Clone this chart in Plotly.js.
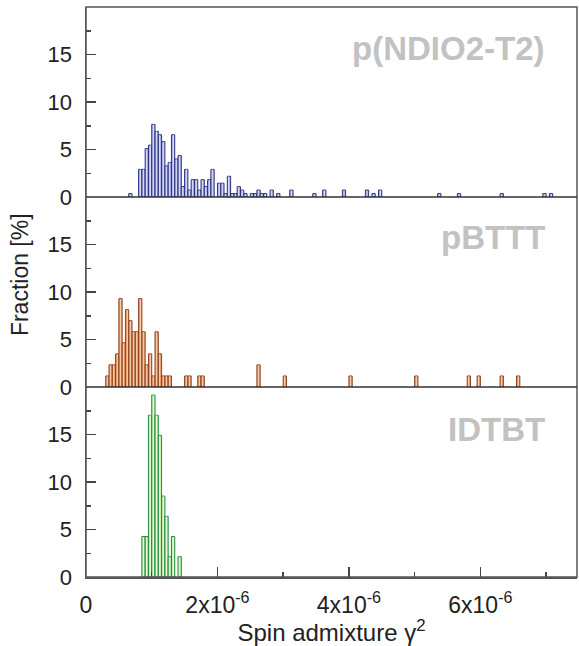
<!DOCTYPE html>
<html>
<head>
<meta charset="utf-8">
<script src="https://cdn.plot.ly/plotly-3.0.1.min.js"></script>
<style>html,body{margin:0;padding:0;background:#fff;}#chart{width:579px;height:646px;}</style>
</head>
<body>
<div id="chart"></div>
<script>
// Bin centres (units of 1e-6) and fractions (%)
const ndioX = [0.675,0.825,0.875,0.925,0.975,1.025,1.075,1.125,1.175,1.225,1.275,1.325,1.375,1.425,1.475,1.525,1.575,1.625,1.675,1.725,1.775,1.825,1.875,1.925,2.025,2.075,2.125,2.175,2.225,2.275,2.325,2.375,2.425,2.525,2.575,2.625,2.675,2.725,2.825,2.925,3.125,3.475,3.625,3.925,4.275,4.375,4.475,5.375,5.675,6.325,6.975,7.075];
const ndioY = [0.36,2.91,2.91,5.09,5.45,7.64,6.91,6.55,5.82,3.27,3.64,6.55,4.00,4.36,1.09,2.91,0.73,1.82,1.82,0.73,1.82,1.09,1.82,2.91,1.45,1.45,0.36,2.18,0.36,0.36,1.09,0.73,0.36,0.36,0.36,0.73,0.36,0.36,0.73,0.36,0.73,0.36,0.73,0.73,0.73,0.36,0.73,0.36,0.36,0.36,0.36,0.36];

const btttX = [0.325,0.375,0.425,0.475,0.525,0.575,0.625,0.675,0.725,0.775,0.825,0.875,0.925,0.975,1.025,1.075,1.125,1.175,1.225,1.275,1.525,1.575,1.725,1.775,2.625,3.025,4.025,5.025,5.825,5.975,6.325,6.575];
const btttY = [1.16,2.33,2.33,3.49,9.30,4.65,8.14,6.98,5.81,5.81,9.30,5.81,2.33,3.49,1.16,5.81,3.49,1.16,1.16,1.16,1.16,1.16,1.16,1.16,2.33,1.16,1.16,1.16,1.16,1.16,1.16,1.16];

const idtX = [0.875,0.925,0.975,1.025,1.075,1.125,1.175,1.225,1.275,1.325,1.425];
const idtY = [4.26,4.26,17.02,19.15,17.02,14.89,8.51,6.38,2.13,4.26,2.13];

const panelLabels = ['p(NDIO2-T2)', 'pBTTT', 'IDTBT'];
const xTickVals = [0, 2, 4, 6];
const xTickText = ['0', '2x10<sup>-6</sup>', '4x10<sup>-6</sup>', '6x10<sup>-6</sup>'];
const yTickVals = [0, 5, 10, 15];

const SCALE = 1e-6;
const BINW = 0.05 * SCALE;
const FONT = 'Liberation Sans, Arial, Helvetica, sans-serif';

function barTrace(xs, ys, yax, fill, line) {
  return {
    type: 'bar',
    x: xs.map(v => v * SCALE),
    y: ys,
    width: BINW,
    xaxis: 'x',
    yaxis: yax,
    marker: {color: fill, line: {color: line, width: 1}},
    hoverinfo: 'x+y',
    showlegend: false
  };
}
// light centre stripe, imitating the shaded bars of the original
function shineTrace(xs, ys, yax, shine) {
  return {
    type: 'bar',
    x: xs.map(v => v * SCALE),
    y: ys,
    width: BINW * 0.3,
    xaxis: 'x',
    yaxis: yax,
    marker: {color: shine, line: {width: 0}},
    hoverinfo: 'skip',
    showlegend: false
  };
}

const data = [
  barTrace(ndioX, ndioY, 'y', '#b3b8e6', '#2b3183'),
  shineTrace(ndioX, ndioY, 'y', 'rgba(255,255,255,0.45)'),
  barTrace(btttX, btttY, 'y2', '#eda170', '#8a4320'),
  shineTrace(btttX, btttY, 'y2', 'rgba(255,235,215,0.55)'),
  barTrace(idtX, idtY, 'y3', '#cdecb0', '#1c8a45'),
  shineTrace(idtX, idtY, 'y3', 'rgba(255,255,230,0.6)')
];

function yAxis(domain) {
  return {
    domain: domain,
    anchor: 'x',
    range: [0, 20],
    tickmode: 'array',
    tickvals: yTickVals,
    ticks: 'inside',
    ticklen: 10,
    tickwidth: 1.5,
    tickcolor: '#444',
    minor: {ticks: 'inside', ticklen: 5, tickwidth: 1.5, tickcolor: '#444', dtick: 2.5, tick0: 0, showgrid: false},
    showline: true,
    linecolor: '#555',
    linewidth: 1.5,
    showgrid: false,
    zeroline: false,
    ticklabelstandoff: 8,
    tickfont: {family: FONT, size: 22, color: '#222'}
  };
}

const layout = {
  width: 579,
  height: 646,
  margin: {l: 86, r: 2, t: 7, b: 69},
  paper_bgcolor: '#fff',
  plot_bgcolor: '#fff',
  bargap: 0,
  barmode: 'overlay',
  font: {family: FONT, color: '#222'},
  xaxis: {
    domain: [0, 1],
    anchor: 'y3',
    range: [0, 7.47 * SCALE],
    tickmode: 'array',
    tickvals: xTickVals.map(v => v * SCALE),
    ticktext: xTickText,
    ticks: 'inside',
    ticklen: 10,
    tickwidth: 1.5,
    tickcolor: '#444',
    minor: {ticks: 'inside', ticklen: 5, tickwidth: 1.5, tickcolor: '#444', dtick: 1 * SCALE, tick0: 0, showgrid: false},
    showline: true,
    linecolor: '#555',
    linewidth: 1.5,
    showgrid: false,
    zeroline: false,
    ticklabelstandoff: 7,
    tickfont: {family: FONT, size: 23, color: '#222'},
    title: {text: 'Spin admixture γ<sup>2</sup>', font: {family: FONT, size: 24, color: '#222'}, standoff: 4}
  },
  yaxis: yAxis([2/3, 1]),
  yaxis2: yAxis([1/3, 2/3]),
  yaxis3: yAxis([0, 1/3]),
  shapes: [
    {type: 'rect', xref: 'paper', yref: 'paper', x0: 0, x1: 1, y0: 0, y1: 1, line: {color: '#555', width: 1.5}, layer: 'above'},
    {type: 'line', xref: 'paper', yref: 'paper', x0: 0, x1: 1, y0: 1/3, y1: 1/3, line: {color: '#333', width: 1.5}, layer: 'above'},
    {type: 'line', xref: 'paper', yref: 'paper', x0: 0, x1: 1, y0: 2/3, y1: 2/3, line: {color: '#333', width: 1.5}, layer: 'above'}
  ],
  annotations: [
    {text: 'Fraction [%]', xref: 'paper', yref: 'paper', x: -0.134, y: 0.53, textangle: -90, showarrow: false, xanchor: 'center', yanchor: 'middle', font: {family: FONT, size: 23, color: '#222'}},
    {text: '<b>' + panelLabels[0] + '</b>', xref: 'paper', yref: 'paper', x: 0.939, y: 0.928, showarrow: false, xanchor: 'right', yanchor: 'middle', font: {family: FONT, size: 33, color: '#c2c2c2'}},
    {text: '<b>' + panelLabels[1] + '</b>', xref: 'paper', yref: 'paper', x: 0.939, y: 0.595, showarrow: false, xanchor: 'right', yanchor: 'middle', font: {family: FONT, size: 33, color: '#c2c2c2'}},
    {text: '<b>' + panelLabels[2] + '</b>', xref: 'paper', yref: 'paper', x: 0.939, y: 0.258, showarrow: false, xanchor: 'right', yanchor: 'middle', font: {family: FONT, size: 33, color: '#c2c2c2'}}
  ]
};

Plotly.newPlot('chart', data, layout, {displayModeBar: false, staticPlot: true});
</script>
</body>
</html>
